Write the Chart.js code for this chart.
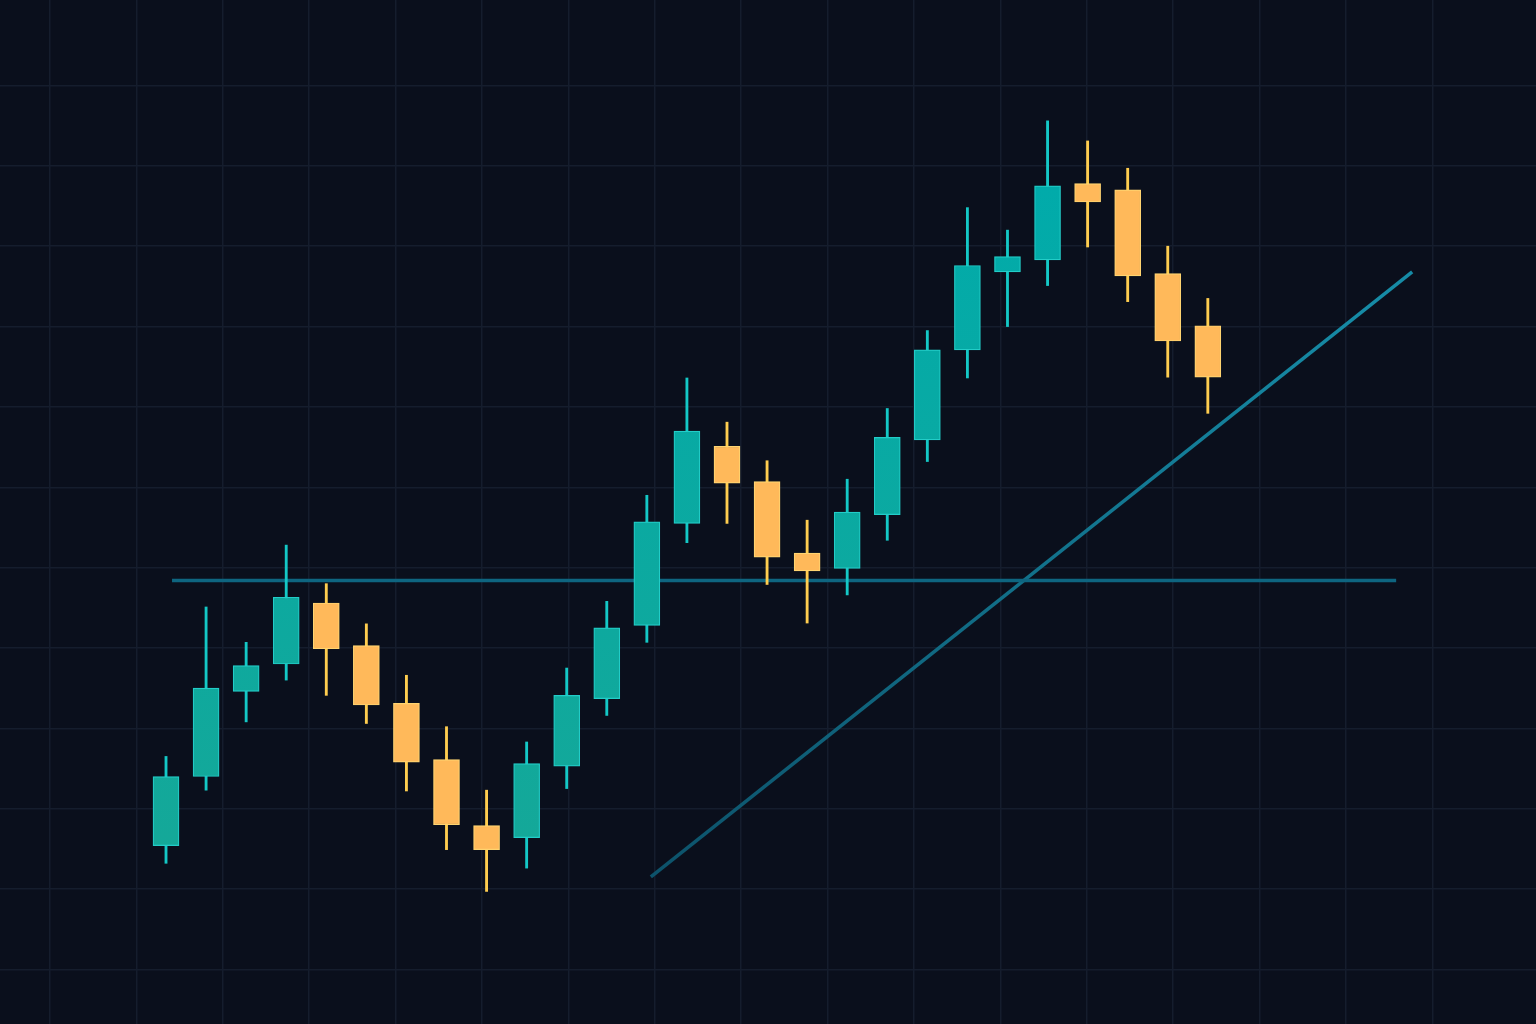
<!DOCTYPE html>
<html>
<head>
<meta charset="utf-8">
<title>Candles</title>
<script src="https://cdn.jsdelivr.net/npm/chart.js@4.4.1/dist/chart.umd.min.js"></script>
<style>
  html, body { margin: 0; padding: 0; background: #0a0f1c; }
  #wrap { width: 1536px; height: 1024px; }
</style>
</head>
<body>
<div id="wrap"><canvas id="chart"></canvas></div>
<script>
// candle data (price units, one grid row = 10)
const opens  = [115.4, 124.0, 134.6, 138.0, 145.6, 140.3, 133.1, 126.1, 117.9, 116.4, 125.3, 133.7, 142.8, 155.5,
                165.1, 160.7, 151.8, 149.9, 156.6, 165.9, 177.1, 186.8, 188.3, 197.8, 197.0, 186.6, 180.1];
const highs  = [126.5, 145.1, 140.7, 152.8, 148.0, 143.0, 136.6, 130.2, 122.3, 128.3, 137.5, 145.8, 159.0, 173.6,
                168.1, 163.3, 155.9, 161.0, 169.8, 179.5, 194.8, 192.0, 205.6, 203.1, 199.7, 190.0, 183.5];
const lows   = [113.2, 122.3, 130.8, 136.0, 134.1, 130.6, 122.2, 114.9, 109.7, 112.6, 122.5, 131.6, 140.7, 153.1,
                155.5, 147.9, 143.1, 146.6, 153.4, 163.2, 173.6, 180.0, 185.1, 189.9, 183.1, 173.7, 169.2];
const closes = [124.0, 135.0, 137.8, 146.3, 139.9, 132.9, 125.8, 118.0, 114.9, 125.6, 134.1, 142.5, 155.7, 167.0,
                160.5, 151.3, 149.6, 156.9, 166.2, 177.1, 187.6, 188.7, 197.5, 195.5, 186.3, 178.2, 173.7];

// support level and trend line (x in candle index, y in price)
const supportLine = [{ x: 0.15, y: 148.4 }, { x: 30.7, y: 148.4 }];
const trendLine = [{ x: 12.1, y: 111.5 }, { x: 31.1, y: 186.8 }];

const UP_EDGE = '#22cdc8', UP_WICK = '#14c8c6';
const DOWN = '#ffb95a', DOWN_EDGE = '#ffd470', DOWN_WICK = '#ffcd4f';

const isUp = opens.map((o, i) => closes[i] >= o);
const bodies = opens.map((o, i) => ({ x: i, y: [o, closes[i]] }));
const wicks = lows.map((l, i) => ({ x: i, y: [l, highs[i]] }));

const bgPlugin = {
  id: 'bg',
  beforeDraw(chart) {
    const ctx = chart.ctx;
    ctx.save();
    ctx.fillStyle = '#0a0f1c';
    ctx.fillRect(0, 0, chart.width, chart.height);
    ctx.restore();
  }
};

// teal bodies go from cyan at the top to a greener teal lower down
function upFill(context) {
  const area = context.chart.chartArea;
  if (!area) return '#08a9a4';
  const g = context.chart.ctx.createLinearGradient(0, area.top, 0, area.bottom);
  g.addColorStop(0.15, '#00abab');
  g.addColorStop(0.85, '#15a898');
  return g;
}

function trendGradient(context) {
  const area = context.chart.chartArea;
  if (!area) return '#137c96';
  const g = context.chart.ctx.createLinearGradient(0, area.bottom, 0, area.top);
  g.addColorStop(0.1, '#0c4e66');
  g.addColorStop(0.7, '#168ba6');
  return g;
}

const ctx = document.getElementById('chart').getContext('2d');
new Chart(ctx, {
  type: 'bar',
  data: {
    datasets: [
      {
        label: 'body',
        data: bodies,
        grouped: false,
        order: 0,
        barThickness: 26,
        backgroundColor: c => (isUp[c.dataIndex] ? upFill(c) : DOWN),
        borderColor: isUp.map(u => u ? UP_EDGE : DOWN_EDGE),
        borderWidth: 1.2,
        borderSkipped: false
      },
      {
        label: 'wick',
        data: wicks,
        grouped: false,
        order: 1,
        barThickness: 2.2,
        backgroundColor: isUp.map(u => u ? UP_WICK : DOWN_WICK),
        borderWidth: 0
      },
      {
        type: 'line',
        label: 'support',
        data: supportLine,
        order: 2,
        borderColor: '#0e6580',
        borderWidth: 3.5,
        pointRadius: 0,
        fill: false
      },
      {
        type: 'line',
        label: 'trend',
        data: trendLine,
        order: 3,
        borderColor: trendGradient,
        borderWidth: 3.5,
        pointRadius: 0,
        fill: false
      }
    ]
  },
  options: {
    responsive: true,
    maintainAspectRatio: false,
    animation: false,
    layout: { padding: 0 },
    plugins: { legend: { display: false }, tooltip: { enabled: false } },
    scales: {
      x: {
        type: 'linear',
        min: -4.143,
        max: 34.19,
        offset: false,
        grid: { offset: false },
        display: false
      },
      gx: {
        type: 'linear',
        axis: 'x',
        position: 'bottom',
        min: -0.5787,
        max: 17.199,
        offset: false,
        border: { display: false },
        grid: { color: '#151d2d', lineWidth: 1.5, drawTicks: false, offset: false },
        ticks: { display: false, stepSize: 1, includeBounds: false },
        afterBuildTicks: s => { s.ticks = s.ticks.filter(t => t.value <= 16); }
      },
      y: {
        type: 'linear',
        min: 93.2,
        max: 220.64,
        border: { display: false },
        grid: { color: '#151d2d', lineWidth: 1.5, drawTicks: false },
        ticks: { display: false, stepSize: 10, includeBounds: false },
        afterBuildTicks: s => { s.ticks = s.ticks.filter(t => t.value <= 210); }
      }
    }
  },
  plugins: [bgPlugin]
});
</script>
</body>
</html>
